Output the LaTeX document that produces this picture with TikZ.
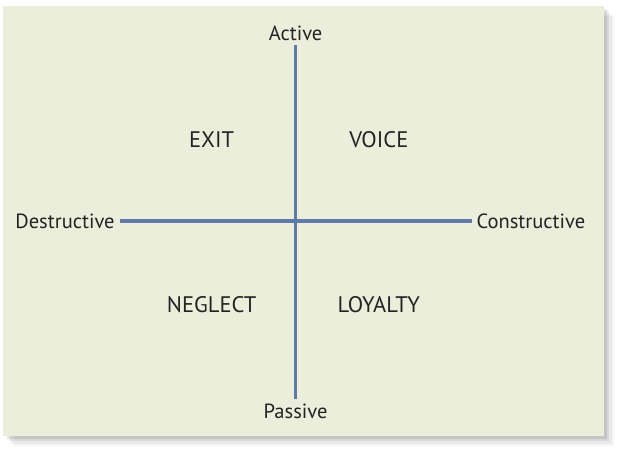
\documentclass[tikz,border=0pt]{standalone}
\usepackage{fontspec}
\setmainfont{PT Sans}
\usetikzlibrary{positioning}
\definecolor{panelgreen}{RGB}{235,238,219}
\definecolor{axisblue}{RGB}{95,122,168}
\definecolor{inkgray}{RGB}{35,35,35}

\begin{document}
\begin{tikzpicture}[
  pole/.style={font=\fontsize{14.6}{17}\selectfont, text=inkgray},
  quadrant/.style={font=\fontsize{16}{18}\selectfont, text=inkgray},
  axis/.style={draw=axisblue, line width=2.35pt}
]
\useasboundingbox (0,0) rectangle (15.65,11.475);

% Shadow
\foreach \s/\o in {0.26/0.04, 0.2/0.05, 0.14/0.07, 0.08/0.09}
  \fill[black, opacity=\o] (0.0875+\s,0.5875-\s) rectangle (15.0875+\s,11.3375-\s);

% Panel
\fill[panelgreen] (0.0875,0.5875) rectangle (15.0875,11.3375);

% Axis labels
\node[pole, anchor=base] (act) at (7.39,10.475) {Active};
\node[pole, anchor=base] (pas) at (7.39,1.025) {Passive};
\node[pole, anchor=base east] (des) at (2.99,5.77) {Destructive};
\node[pole, anchor=base west] (con) at (11.79,5.77) {Constructive};

% Quadrants
\node[quadrant, anchor=base] (exit) at (5.29,7.8) {EXIT};
\node[quadrant, anchor=base] (voice) at (9.47,7.8) {VOICE};
\node[quadrant, anchor=base] (neglect) at (5.29,3.675) {NEGLECT};
\node[quadrant, anchor=base] (loyalty) at (9.47,3.675) {LOYALTY};

% Axes
\draw[axis] (act) -- (pas);
\draw[axis] (des.east) -- (des.east -| con.west);

\end{tikzpicture}
\end{document}
